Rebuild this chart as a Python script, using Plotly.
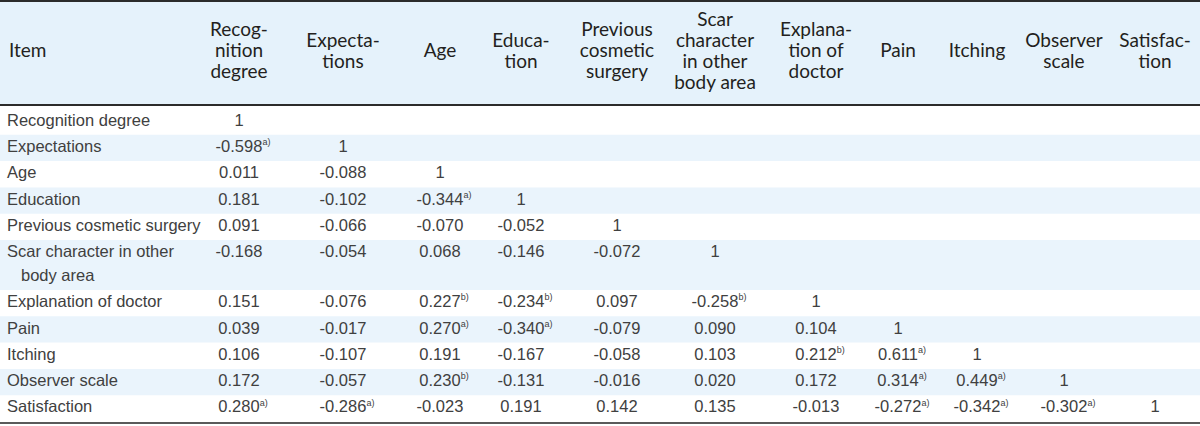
import plotly.graph_objects as go

# ---------------- data ----------------
ITEMS = ["Recognition degree", "Expectations", "Age", "Education",
         "Previous cosmetic surgery", "Scar character in other body area",
         "Explanation of doctor", "Pain", "Itching", "Observer scale", "Satisfaction"]

# how the row labels wrap in the first column
ITEM_LINES = [["Recognition degree"], ["Expectations"], ["Age"], ["Education"],
              ["Previous cosmetic surgery"], ["Scar character in other", "body area"],
              ["Explanation of doctor"], ["Pain"], ["Itching"], ["Observer scale"],
              ["Satisfaction"]]

HEADER_FIRST = "Item"
HEADER_LINES = [["Recog-", "nition", "degree"], ["Expecta-", "tions"], ["Age"],
                ["Educa-", "tion"], ["Previous", "cosmetic", "surgery"],
                ["Scar", "character", "in other", "body area"],
                ["Explana-", "tion of", "doctor"], ["Pain"], ["Itching"],
                ["Observer", "scale"], ["Satisfac-", "tion"]]

CORR = [
    [1],
    [-0.598, 1],
    [0.011, -0.088, 1],
    [0.181, -0.102, -0.344, 1],
    [0.091, -0.066, -0.070, -0.052, 1],
    [-0.168, -0.054, 0.068, -0.146, -0.072, 1],
    [0.151, -0.076, 0.227, -0.234, 0.097, -0.258, 1],
    [0.039, -0.017, 0.270, -0.340, -0.079, 0.090, 0.104, 1],
    [0.106, -0.107, 0.191, -0.167, -0.058, 0.103, 0.212, 0.611, 1],
    [0.172, -0.057, 0.230, -0.131, -0.016, 0.020, 0.172, 0.314, 0.449, 1],
    [0.280, -0.286, -0.023, 0.191, 0.142, 0.135, -0.013, -0.272, -0.342, -0.302, 1],
]

SIG = [
    [""],
    ["a", ""],
    ["", "", ""],
    ["", "", "a", ""],
    ["", "", "", "", ""],
    ["", "", "", "", "", ""],
    ["", "", "b", "b", "", "b", ""],
    ["", "", "a", "a", "", "", "", ""],
    ["", "", "", "", "", "", "b", "a", ""],
    ["", "", "b", "", "", "", "", "a", "a", ""],
    ["a", "a", "", "", "", "", "", "a", "a", "a", ""],
]

# ---------------- layout / style constants ----------------
W, H = 1200, 426
COL_X = [239, 343, 440, 521, 617, 715, 816, 898, 977, 1064, 1155]
LABEL_X = 7
ITEM_X = 9
WRAP_INDENT = 21
HEADER_TOP = 1
HEADER_BOTTOM = 105
HEADER_MID = 52.5
HEADER_GAP = 21
BODY_TOP = 108.5
ROW_H = 26.3
LINE_GAP = 23.7
BOTTOM_LINE = 423

BODY_FONT = "Liberation Sans, Arial, sans-serif"
HEAD_FONT = "Lato, Open Sans, sans-serif"
BODY_SIZE = 16.5
HEAD_SIZE = 19
BODY_COLOR = "#404040"
HEAD_COLOR = "#231f20"
HEAD_FILL = "#e5f2fb"
ROW_FILL = "#eaf4fc"
SUP_SIZE = 9


def fmt(v):
    return "1" if v == 1 else f"{v:.3f}"


def cell_text(v, s):
    if not s:
        return fmt(v)
    sup = f'<sup><span style="font-size:{SUP_SIZE}px">{s})</span></sup>'
    ghost = f'<sup><span style="font-size:{SUP_SIZE}px;color:rgba(0,0,0,0)">{s})</span></sup>'
    return ghost + fmt(v) + sup


# row geometry
row_tops = []
y = BODY_TOP
for lines in ITEM_LINES:
    row_tops.append(y)
    y += ROW_H + (len(lines) - 1) * LINE_GAP
row_bottoms = row_tops[1:] + [y]

fig = go.Figure()

# header texts
hx, hy, ht = [ITEM_X], [HEADER_MID], [HEADER_FIRST]
hpos = ["middle right"]
for ci, lines in enumerate(HEADER_LINES):
    n = len(lines)
    for k, ln in enumerate(lines):
        hx.append(COL_X[ci])
        hy.append(HEADER_MID + (k - (n - 1) / 2) * HEADER_GAP)
        ht.append(ln)
        hpos.append("middle center")
fig.add_trace(go.Scatter(x=hx, y=hy, text=ht, mode="text", textposition=hpos,
                         textfont=dict(family=HEAD_FONT, size=HEAD_SIZE, color=HEAD_COLOR),
                         hoverinfo="skip", showlegend=False))

# row labels
lx, ly, lt = [], [], []
for ri, lines in enumerate(ITEM_LINES):
    for k, ln in enumerate(lines):
        lx.append(WRAP_INDENT if k > 0 else LABEL_X)
        ly.append(row_tops[ri] + ROW_H / 2 + k * LINE_GAP)
        lt.append(ln)
fig.add_trace(go.Scatter(x=lx, y=ly, text=lt, mode="text", textposition="middle right",
                         textfont=dict(family=BODY_FONT, size=BODY_SIZE, color=BODY_COLOR),
                         hoverinfo="skip", showlegend=False))

# correlation values
vx, vy, vt = [], [], []
for ri, row in enumerate(CORR):
    for ci, v in enumerate(row):
        vx.append(COL_X[ci])
        vy.append(row_tops[ri] + ROW_H / 2)
        vt.append(cell_text(v, SIG[ri][ci]))
fig.add_trace(go.Scatter(x=vx, y=vy, text=vt, mode="text", textposition="middle center",
                         textfont=dict(family=BODY_FONT, size=BODY_SIZE, color=BODY_COLOR),
                         hoverinfo="skip", showlegend=False))

shapes = [dict(type="rect", xref="x", yref="y", x0=0, x1=W, y0=HEADER_TOP, y1=HEADER_BOTTOM,
               fillcolor=HEAD_FILL, line=dict(width=0), layer="below")]
for ri in range(len(ITEMS)):
    if ri % 2 == 1:
        shapes.append(dict(type="rect", xref="x", yref="y", x0=0, x1=W,
                           y0=row_tops[ri], y1=row_bottoms[ri],
                           fillcolor=ROW_FILL, line=dict(width=0), layer="below"))
for yy, col in [(HEADER_TOP, "#2b2b2b"), (HEADER_BOTTOM, "#2b2b2b"), (BOTTOM_LINE, "#5a5a5a")]:
    shapes.append(dict(type="line", xref="x", yref="y", x0=0, x1=W, y0=yy, y1=yy,
                       line=dict(color=col, width=2)))

fig.update_layout(
    width=W, height=H, margin=dict(l=0, r=0, t=0, b=0),
    paper_bgcolor="white", plot_bgcolor="white",
    xaxis=dict(range=[0, W], visible=False, fixedrange=True),
    yaxis=dict(range=[H, 0], visible=False, fixedrange=True),
    shapes=shapes, showlegend=False,
)

fig.write_html("out.html", config={"displayModeBar": False},
               post_script="document.body.style.margin='0';document.body.style.overflow='hidden';")
